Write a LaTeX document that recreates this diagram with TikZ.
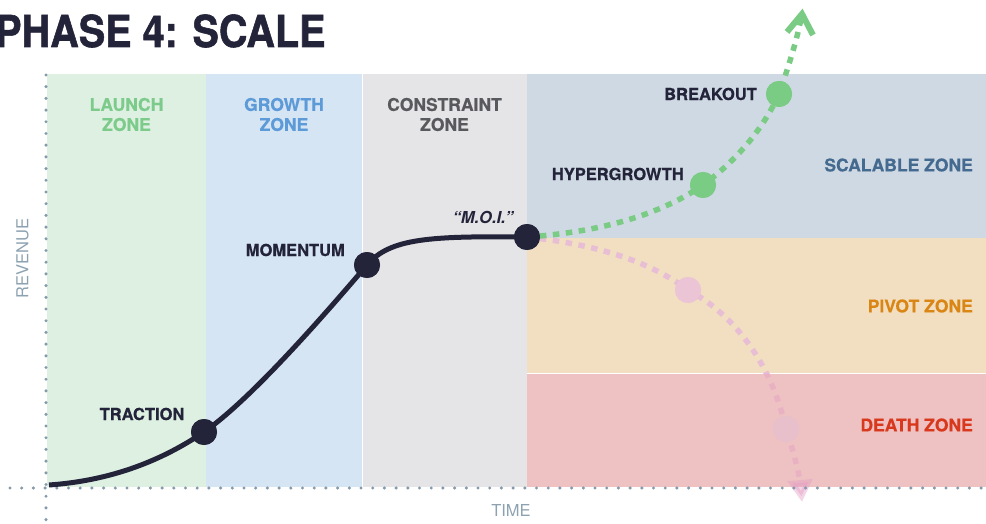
\documentclass[tikz,border=0pt]{standalone}
\usepackage{fontspec}
\setmainfont{TeX Gyre Heros}[BoldFeatures={FakeBold=0.5}]
\newfontfamily\titlefont{TeX Gyre Heros}[UprightFont=*-Bold, FakeBold=1.3]
\usetikzlibrary{arrows.meta,calc}
\definecolor{launchbg}{HTML}{DDF0E1}
\definecolor{growthbg}{HTML}{D5E5F4}
\definecolor{constrbg}{HTML}{E5E5E7}
\definecolor{scalebg}{HTML}{CFD9E3}
\definecolor{pivotbg}{HTML}{F2DFC1}
\definecolor{deathbg}{HTML}{EEC2C3}
\definecolor{ink}{HTML}{23233A}
\definecolor{greenline}{HTML}{7ACB83}
\definecolor{pinkline}{HTML}{E2AAE0}
\definecolor{pinklow}{HTML}{E49CC4}
\definecolor{axisc}{HTML}{8499AA}
\definecolor{axistx}{HTML}{8DA2B1}
\definecolor{launchtx}{HTML}{7DCB8B}
\definecolor{growthtx}{HTML}{5D9AD8}
\definecolor{constrtx}{HTML}{58595D}
\definecolor{scaletx}{HTML}{456A90}
\definecolor{pivottx}{HTML}{DA8615}
\definecolor{deathtx}{HTML}{D8391D}
\definecolor{pinkdot}{HTML}{EBC4D5}
\definecolor{pinkdotb}{HTML}{E8C0CC}
\begin{document}
\begin{tikzpicture}[x=1pt,y=-1pt,
  zonelabel/.style={font=\fontsize{17.5}{20}\selectfont\bfseries, align=center, inner sep=0pt},
  ptlabel/.style={font=\fontsize{16.5}{20}\selectfont\bfseries, text=ink, inner sep=0pt},
  axislabel/.style={font=\fontsize{16.5}{20}\selectfont, text=axistx, inner sep=0pt},
  axisdots/.style={draw=axisc, line width=3.4pt, line cap=round, dash pattern=on 0pt off 11.7pt},
  curveline/.style={draw=ink, line width=5pt},
  bigdot/.style={circle, fill=#1, minimum size=26pt, inner sep=0pt},
  greenpath/.style={draw=greenline, line width=5.5pt, dash pattern=on 6.5pt off 6.5pt},
  pinkpath/.style={draw=#1, line width=5.5pt, dash pattern=on 6.5pt off 6.5pt}
]
\useasboundingbox (0,0) rectangle (986,524);
% zones
\fill[launchbg] (47,74) rectangle (206,487);
\fill[growthbg] (206,74) rectangle (362,487);
\fill[constrbg] (362,74) rectangle (527,487);
\fill[scalebg] (527,74) rectangle (986,238);
\fill[pivotbg] (527,238) rectangle (986,373);
\fill[deathbg] (527,373) rectangle (986,487);
\draw[white, line width=1pt] (362,74) -- (362,487);
\draw[white, line width=1pt] (527,373) -- (986,373);
% title
\node[anchor=base west, inner sep=0pt, text=ink] (title) at (-5,47)
  {\scalebox{0.9}[1]{\fontsize{44}{50}\titlefont PHASE 4: SCALE}};
% zone labels
\node[zonelabel, text=launchtx] (zl) at (126.5,114.5) {LAUNCH\\ZONE};
\node[zonelabel, text=growthtx] (zg) at (284,114.5) {GROWTH\\ZONE};
\node[zonelabel, text=constrtx] (zc) at (444.5,114.5) {CONSTRAINT\\ZONE};
\node[zonelabel, text=scaletx, anchor=east] (zs) at (973,165) {SCALABLE ZONE};
\node[zonelabel, text=pivottx, anchor=east] (zp) at (973,306) {PIVOT ZONE};
\node[zonelabel, text=deathtx, anchor=east] (zd) at (973,425) {DEATH ZONE};
% axis labels
\node[axislabel, rotate=90] (rev) at (22.5,258.5) {REVENUE};
\node[axislabel] (time) at (511,510) {TIME};
% points
\coordinate (start) at (49,485);
\node[bigdot=ink] (trac) at (204,432) {};
\node[bigdot=ink] (mom) at (367,265) {};
\node[bigdot=ink] (moi) at (527,237) {};
\node[bigdot=greenline] (hyp) at (703,185) {};
\node[bigdot=greenline] (brk) at (779,94) {};
\node[bigdot=pinkdot] (pk1) at (688,290) {};
\node[bigdot=pinkdotb] (pk2) at (786,429) {};
\coordinate (gtip) at (802,14);
\coordinate (ptip) at (802,502);
% pink branch
\begin{scope}
\clip (500,0) rectangle (986,373);
\draw[pinkpath=pinkline, opacity=0.62] (moi.center) .. controls (600,245) and (650,262) .. (pk1.center)
  .. controls (735,315) and (772,365) .. (pk2.center) .. controls (795,455) and (800,480) .. (ptip);
\end{scope}
\begin{scope}
\clip (500,373) rectangle (986,524);
\draw[pinkpath=pinklow, opacity=0.42, -{Triangle[length=22pt,width=24pt]}] (moi.center) .. controls (600,245) and (650,262) .. (pk1.center)
  .. controls (735,315) and (772,365) .. (pk2.center) .. controls (795,455) and (800,480) .. (ptip);
\end{scope}
\node[bigdot=pinkdot] at (pk1) {};
\node[bigdot=pinkdotb] at (pk2) {};
% green branch
\draw[greenpath] (moi.center) .. controls (600,232) and (660,215) .. (hyp.center)
  .. controls (740,158) and (765,125) .. (brk.center) .. controls (789,65) and (797,40) .. (gtip);
\draw[draw=greenline, line width=6pt, line join=miter] ($(gtip)+(-15,18)$) -- (gtip) -- ($(gtip)+(11,21)$);
\node[bigdot=greenline] at (hyp) {};
\node[bigdot=greenline] at (brk) {};
% axes
\draw[axisdots] (10,488) -- (986,488);
\draw[axisdots] (46,75) -- (46,524);
% main curve
\draw[curveline] (start) .. controls (120,480) and (170,455) .. (trac.center)
  .. controls (250,400) and (320,320) .. (mom.center)
  .. controls (390,238) and (430,236) .. (moi.center);
\node[bigdot=ink] at (trac) {};
\node[bigdot=ink] at (mom) {};
\node[bigdot=ink] at (moi) {};
% point labels
\node[ptlabel] (ltrac) at (142,414) {TRACTION};
\node[ptlabel, anchor=east] (lmom) at (345,250) {MOMENTUM};
\node[ptlabel, font=\fontsize{16.5}{20}\selectfont\bfseries\itshape] (lmoi) at (483,217) {“M.O.I.”};
\node[ptlabel, anchor=east] (lhyp) at (684,174) {HYPERGROWTH};
\node[ptlabel, anchor=east] (lbrk) at (757,94) {BREAKOUT};
\end{tikzpicture}
\end{document}
